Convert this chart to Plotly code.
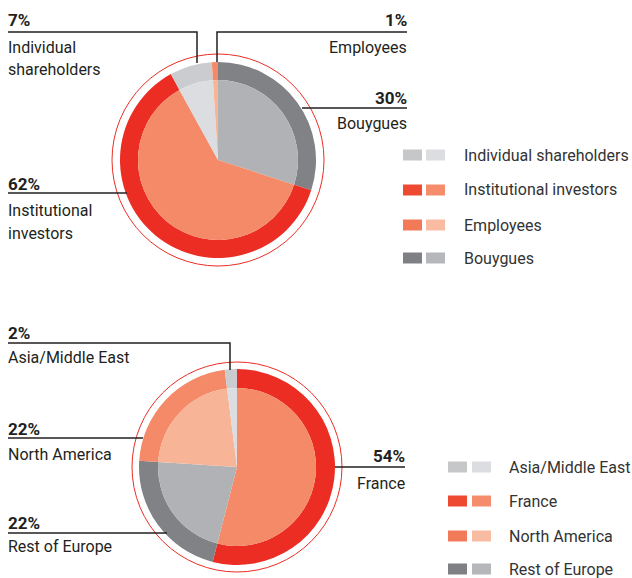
import plotly.graph_objects as go

W, H = 632, 578

# ---------------- data ----------------
own_categories = ["Bouygues", "Institutional investors", "Individual shareholders", "Employees"]
own_values = [30, 62, 7, 1]
own_legend_order = ["Individual shareholders", "Institutional investors", "Employees", "Bouygues"]

geo_categories = ["France", "Rest of Europe", "North America", "Asia/Middle East"]
geo_values = [54, 22, 22, 2]
geo_legend_order = ["Asia/Middle East", "France", "North America", "Rest of Europe"]

# ---------------- styles ----------------
RED = "#ec2d24"
outer_colors = {
    "Bouygues": "#808285", "Institutional investors": "#ec2d24",
    "Individual shareholders": "#cbcccf", "Employees": "#f48a67",
    "France": "#ec2d24", "Rest of Europe": "#808285",
    "North America": "#f48a67", "Asia/Middle East": "#cbcccf",
}
inner_colors = {
    "Bouygues": "#b1b2b5", "Institutional investors": "#f48a67",
    "Individual shareholders": "#dcdde0", "Employees": "#f8b497",
    "France": "#f48a67", "Rest of Europe": "#b1b2b5",
    "North America": "#f8b497", "Asia/Middle East": "#dcdde0",
}
legend_dark = {
    "Individual shareholders": "#c6c7c9", "Institutional investors": "#ee4a31",
    "Employees": "#f37a58", "Bouygues": "#7f8084",
    "Asia/Middle East": "#c6c7c9", "France": "#ee4a31",
    "North America": "#f37a58", "Rest of Europe": "#7f8084",
}
legend_light = {
    "Individual shareholders": "#dcdde0", "Institutional investors": "#f58c6c",
    "Employees": "#f9bba2", "Bouygues": "#b5b7ba",
    "Asia/Middle East": "#dcdde0", "France": "#f58c6c",
    "North America": "#f9bba2", "Rest of Europe": "#b5b7ba",
}

FONT = "Roboto"
TXT = "#231f20"


def px(x):
    return x / W


def py(y):
    return 1 - y / H


fig = go.Figure()
shapes = []
annotations = []


def add_donut(cx, cy, r_out, r_in, r_ring, cats, vals):
    fig.add_trace(go.Pie(
        labels=cats, values=vals, sort=False, direction="clockwise", rotation=0,
        hole=r_in / r_out, textinfo="none", showlegend=False,
        marker=dict(colors=[outer_colors[c] for c in cats], line=dict(width=0)),
        domain=dict(x=[px(cx - r_out), px(cx + r_out)], y=[py(cy + r_out), py(cy - r_out)]),
    ))
    fig.add_trace(go.Pie(
        labels=cats, values=vals, sort=False, direction="clockwise", rotation=0,
        textinfo="none", showlegend=False,
        marker=dict(colors=[inner_colors[c] for c in cats], line=dict(width=0)),
        domain=dict(x=[px(cx - r_in), px(cx + r_in)], y=[py(cy + r_in), py(cy - r_in)]),
    ))
    shapes.append(dict(type="circle", xref="paper", yref="paper",
                       x0=px(cx - r_ring), x1=px(cx + r_ring),
                       y0=py(cy + r_ring), y1=py(cy - r_ring),
                       line=dict(color=RED, width=1)))


def text(x, y, s, anchor, size, color):
    annotations.append(dict(x=px(x), y=py(y), xref="paper", yref="paper",
                            text=s, showarrow=False, xanchor=anchor, yanchor="middle",
                            borderpad=0, borderwidth=0,
                            font=dict(family=FONT, size=size, color=color)))


def callout(value, name_lines, side, x, y_pct, y_names, path):
    anchor = "left" if side == "left" else "right"
    text(x, y_pct, f"<b>{value}%</b>", anchor, 17, TXT)
    for line, yy in zip(name_lines, y_names):
        text(x, yy, line, anchor, 16, TXT)
    d = "M " + " L ".join(f"{px(a)},{py(b)}" for a, b in path)
    shapes.append(dict(type="path", xref="paper", yref="paper", path=d,
                       line=dict(color=TXT, width=1.5)))


def legend(order, x_sw1, x_sw2, sw_w, x_txt, rows):
    for cat, yy in zip(order, rows):
        for xs, col in ((x_sw1, legend_dark[cat]), (x_sw2, legend_light[cat])):
            shapes.append(dict(type="rect", xref="paper", yref="paper",
                               x0=px(xs), x1=px(xs + sw_w), y0=py(yy + 5.5), y1=py(yy - 5.5),
                               fillcolor=col, line=dict(width=0)))
        text(x_txt, yy, cat, "left", 16, "#333333")


# ---------- chart 1: shareholders ----------
add_donut(218, 160, 98, 80, 106, own_categories, own_values)
ov = dict(zip(own_categories, own_values))
callout(ov["Individual shareholders"], ["Individual", "shareholders"], "left", 8, 20, [47, 70],
        [(8, 32), (197, 32), (197, 63)])
callout(ov["Employees"], ["Employees"], "right", 407, 20, [48],
        [(407, 32), (217, 32), (217, 62)])
callout(ov["Bouygues"], ["Bouygues"], "right", 407, 98, [124],
        [(407, 108), (302, 108)])
callout(ov["Institutional investors"], ["Institutional", "investors"], "left", 8, 184, [211, 233],
        [(8, 193), (127, 193)])
legend(own_legend_order, 403, 426, 19, 464, [155, 190, 225, 258])

# ---------- chart 2: geography ----------
add_donut(237, 467, 98, 79, 105, geo_categories, geo_values)
gv = dict(zip(geo_categories, geo_values))
callout(gv["Asia/Middle East"], ["Asia/Middle East"], "left", 8, 333, [357],
        [(8, 343), (230, 343), (230, 370)])
callout(gv["North America"], ["North America"], "left", 8, 429, [454],
        [(8, 438), (143, 438)])
callout(gv["Rest of Europe"], ["Rest of Europe"], "left", 8, 523, [546],
        [(8, 533), (167, 533)])
callout(gv["France"], ["France"], "right", 405, 456, [483],
        [(405, 467), (335, 467)])
legend(geo_legend_order, 448, 472, 19, 509, [467, 501, 536, 569])

fig.update_layout(
    width=W, height=H, margin=dict(l=0, r=0, t=0, b=0),
    paper_bgcolor="white", plot_bgcolor="white",
    shapes=shapes, annotations=annotations, showlegend=False,
)
fig.write_html(
    "out.html",
    config={"displayModeBar": False},
    post_script="document.body.style.margin='0';document.body.style.padding='0';"
                "document.body.style.overflow='hidden';",
)
